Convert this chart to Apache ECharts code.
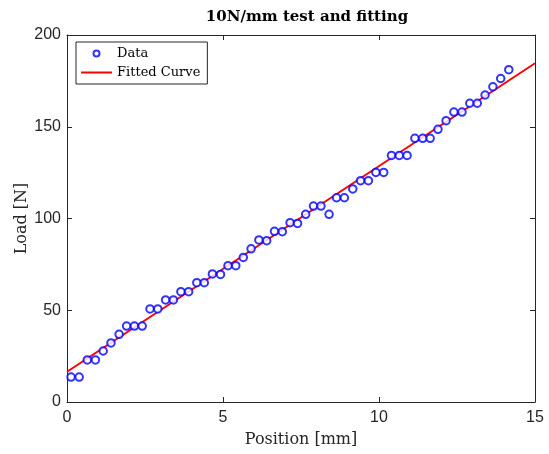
<!DOCTYPE html>
<html>
<head>
<meta charset="utf-8">
<script src="https://cdn.jsdelivr.net/npm/echarts@6/dist/echarts.min.js"></script>
<style>
html,body{margin:0;padding:0;background:#fff;}
#chart{width:549px;height:454px;}
</style>
</head>
<body>
<div id="chart"></div>
<script>
// Data
var posData = [0.13,0.39,0.65,0.91,1.16,1.41,1.67,1.91,2.16,2.41,2.66,2.91,3.16,3.41,3.65,3.90,4.16,4.40,4.66,4.92,
  5.16,5.41,5.65,5.90,6.15,6.40,6.65,6.90,7.15,7.39,7.65,7.90,8.14,8.40,8.64,8.89,9.16,9.41,9.66,9.90,
  10.15,10.40,10.65,10.90,11.15,11.40,11.64,11.89,12.15,12.40,12.66,12.91,13.15,13.40,13.65,13.90,14.16];
var loadData = [13.6,13.6,22.9,22.9,27.8,32.2,36.9,41.4,41.4,41.4,50.7,50.7,55.6,55.6,60.1,60.1,65.0,65.0,69.8,69.5,
  74.3,74.3,78.8,83.5,88.3,87.9,93.0,92.8,97.7,97.3,102.3,106.8,106.8,102.3,111.3,111.3,116.1,120.6,120.6,125.1,
  125.1,134.4,134.4,134.4,143.7,143.7,143.7,148.6,153.3,158.0,158.0,162.8,162.8,167.3,171.8,176.3,181.1];
var fitPos = [0, 15];
var fitLoad = [16.5, 184.6];
var xTicks = [0, 5, 10, 15];
var yTicks = [0, 50, 100, 150, 200];

var scatterPts = posData.map(function(x, i){ return [x, loadData[i]]; });
var fitPts = fitPos.map(function(x, i){ return [x, fitLoad[i]]; });

var axisColor = '#262626';
var serif = 'DejaVu Serif';
var sans = 'Liberation Sans';

function baseX(pos, show){
  return {
    type: 'value', position: pos, min: xTicks[0], max: xTicks[xTicks.length-1], interval: xTicks[1]-xTicks[0],
    axisLine: {show: true, onZero: false, lineStyle: {color: axisColor, width: 1}},
    axisTick: {show: true, inside: true, length: 5, lineStyle: {color: axisColor}},
    axisLabel: {show: show, color: axisColor, fontFamily: sans, fontSize: 16, margin: 8},
    splitLine: {show: false}
  };
}
function baseY(pos, show){
  return {
    type: 'value', position: pos, min: yTicks[0], max: yTicks[yTicks.length-1], interval: yTicks[1]-yTicks[0],
    axisLine: {show: true, onZero: false, lineStyle: {color: axisColor, width: 1}},
    axisTick: {show: true, inside: true, length: 5, lineStyle: {color: axisColor}},
    axisLabel: {show: show, color: axisColor, fontFamily: sans, fontSize: 16, margin: 6},
    splitLine: {show: false}
  };
}

var xb = baseX('bottom', true);
xb.name = 'Position [mm]';
xb.nameLocation = 'middle';
xb.nameGap = 30;
xb.nameMoveOverlap = false;
xb.nameTextStyle = {color: axisColor, fontFamily: serif, fontSize: 16};
var xt = baseX('top', false);
var yl = baseY('left', true);
yl.name = 'Load [N]';
yl.nameLocation = 'middle';
yl.nameGap = 37;
yl.nameMoveOverlap = false;
yl.nameTextStyle = {color: axisColor, fontFamily: serif, fontSize: 16};
var yr = baseY('right', false);

var chart = echarts.init(document.getElementById('chart'), null, {renderer: 'canvas'});
chart.setOption({
  backgroundColor: '#fff',
  animation: false,
  title: {
    text: '10N/mm test and fitting',
    left: 302, top: 5, textAlign: 'center',
    textStyle: {fontFamily: serif, fontSize: 15, fontWeight: 'bold', color: '#000'}
  },
  grid: {left: 67, top: 35, width: 468, height: 367, containLabel: false},
  xAxis: [xb, xt],
  yAxis: [yl, yr],
  legend: {
    orient: 'vertical', left: 76, top: 42,
    itemWidth: 31, itemHeight: 6, itemGap: 4,
    padding: [4, 7, 4, 5],
    borderColor: axisColor, borderWidth: 1, backgroundColor: '#fff',
    textStyle: {fontFamily: serif, fontSize: 13, color: '#000', lineHeight: 15},
    data: [
      {name: 'Data'},
      {name: 'Fitted Curve', icon: 'path://M0,0 L31,0 L31,2 L0,2 Z', itemStyle: {color: '#ff0000'}}
    ]
  },
  series: [
    {
      name: 'Fitted Curve', type: 'line', data: fitPts, symbol: 'none', z: 2,
      lineStyle: {color: '#ff0000', width: 2}, itemStyle: {color: '#ff0000'}
    },
    {
      name: 'Data', type: 'scatter', data: scatterPts, symbol: 'emptyCircle', symbolSize: 7.5, z: 3,
      itemStyle: {color: '#0000ff', borderColor: '#0000ff', borderWidth: 1.2}
    }
  ]
});
</script>
</body>
</html>
